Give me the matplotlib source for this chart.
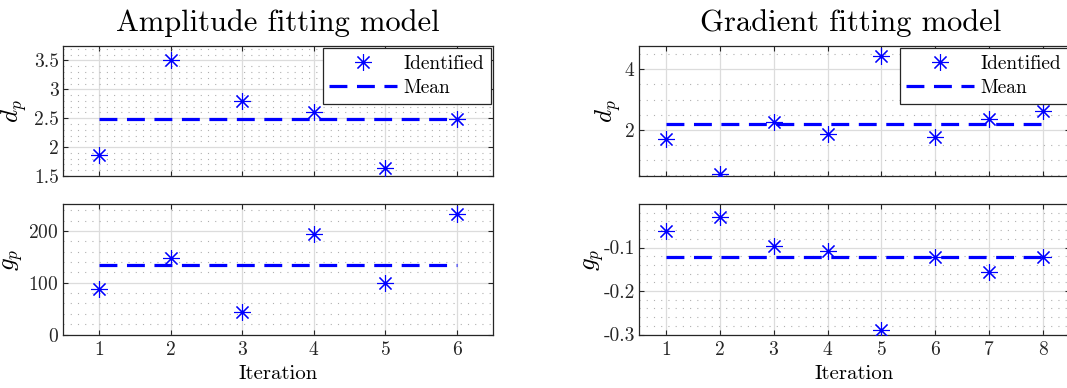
"""Identified parameters per iteration for the two fitting models."""

import matplotlib

matplotlib.use("Agg")
import matplotlib.pyplot as plt  # noqa: E402
from matplotlib.ticker import MultipleLocator  # noqa: E402


ITER_AMP = [1, 2, 3, 4, 5, 6]
DP_AMP = [1.87, 3.51, 2.80, 2.60, 1.63, 2.48]
GP_AMP = [88, 148, 43, 195, 100, 232]
DP_AMP_MEAN = 2.48
GP_AMP_MEAN = 134.3

ITER_GRAD = [1, 2, 3, 4, 5, 6, 7, 8]
DP_GRAD = [1.70, 0.54, 2.26, 1.85, 4.45, 1.78, 2.35, 2.63]
GP_GRAD = [-0.062, -0.030, -0.096, -0.108, -0.290, -0.122, -0.157, -0.122]
DP_GRAD_MEAN = 2.19
GP_GRAD_MEAN = -0.1215

BLUE = "#0000FF"
W, H = 1067, 388


def _style() -> None:
    plt.rcParams.update(
        {
            "font.family": "serif",
            "font.serif": ["cmr10", "DejaVu Serif"],
            "mathtext.fontset": "cm",
            "axes.formatter.use_mathtext": True,
            "axes.unicode_minus": False,
            "font.size": 11,
            "xtick.labelsize": 14,
            "ytick.labelsize": 14,
            "xtick.direction": "in",
            "ytick.direction": "in",
            "xtick.top": True,
            "ytick.right": True,
            "xtick.major.size": 3.5,
            "ytick.major.size": 3.5,
            "xtick.major.pad": 5,
            "ytick.major.pad": 3,
            "xtick.color": "#262626",
            "ytick.color": "#262626",
            "axes.edgecolor": "#262626",
            "axes.linewidth": 0.9,
        }
    )


def _axes(fig, x0, y0, x1, y1):
    return fig.add_axes([x0 / W, 1 - y1 / H, (x1 - x0) / W, (y1 - y0) / H])


def _panel(ax, xs, ys, mean, ylabel, ylim, yticks, minor, label_xy,
           legend=False, xlabel=True):
    ax.plot(xs, ys, linestyle="none", marker=(8, 2, 0), markersize=12,
            markeredgewidth=0.8, color=BLUE, label="Identified", zorder=3)
    ax.plot([xs[0], xs[-1]], [mean, mean], color=BLUE, linewidth=2.3,
            linestyle=(0, (5.6, 3.0)), label="Mean", zorder=2)
    ax.set_xlim(0.5, xs[-1] + 0.5)
    ax.set_xticks(xs)
    ax.set_ylim(*ylim)
    ax.set_yticks(yticks)
    ax.yaxis.set_minor_locator(MultipleLocator(minor))
    ax.tick_params(which="minor", length=0)
    ax.grid(True, which="major", color="#dcdcdc", linewidth=0.9)
    ax.grid(True, which="minor", axis="y", color="#b0b0b0", linewidth=0.8,
            linestyle=(0, (1, 5.5)))
    ax.set_axisbelow(True)
    ax.set_ylabel(ylabel, fontsize=18, va="center")
    ax.yaxis.set_label_coords(*label_xy)
    if xlabel:
        ax.set_xlabel("Iteration", fontsize=15, labelpad=4)
    else:
        ax.set_xticklabels([])
    if legend:
        leg = ax.legend(loc="upper right", fancybox=False, framealpha=1,
                        edgecolor="#262626", fontsize=14, handlelength=3.5,
                        handletextpad=0.3, borderaxespad=0.12, borderpad=0.35,
                        labelspacing=0.3)
        leg.get_frame().set_linewidth(0.9)


def main() -> None:
    _style()
    fig = plt.figure(figsize=(W / 100, H / 100), dpi=100)

    ax = _axes(fig, 63, 46, 493, 176)
    _panel(ax, ITER_AMP, DP_AMP, DP_AMP_MEAN, "$d_p$", (1.5, 3.75),
           [1.5, 2, 2.5, 3, 3.5], 0.1, (-0.113, 0.5), legend=True, xlabel=False)
    ax.set_yticklabels(["1.5", "2", "2.5", "3", "3.5"])
    ax.set_title("Amplitude fitting model", fontsize=22, pad=11)

    ax = _axes(fig, 63, 204, 493, 334.5)
    _panel(ax, ITER_AMP, GP_AMP, GP_AMP_MEAN, "$g_p$", (0, 252),
           [0, 100, 200], 20, (-0.115, 0.57))

    ax = _axes(fig, 639, 46, 1070, 176)
    _panel(ax, ITER_GRAD, DP_GRAD, DP_GRAD_MEAN, "$d_p$", (0.48, 4.77),
           [2, 4], 0.5, (-0.072, 0.5), legend=True, xlabel=False)
    ax.set_title("Gradient fitting model", fontsize=22, pad=11, x=0.49)

    ax = _axes(fig, 639, 204, 1070, 334.5)
    _panel(ax, ITER_GRAD, GP_GRAD, GP_GRAD_MEAN, "$g_p$", (-0.3, 0.0),
           [-0.3, -0.2, -0.1], 0.02, (-0.105, 0.57))
    ax.set_yticklabels(["-0.3", "-0.2", "-0.1"])

    fig.savefig("out.png", dpi=100)
    plt.close(fig)


if __name__ == "__main__":
    main()
